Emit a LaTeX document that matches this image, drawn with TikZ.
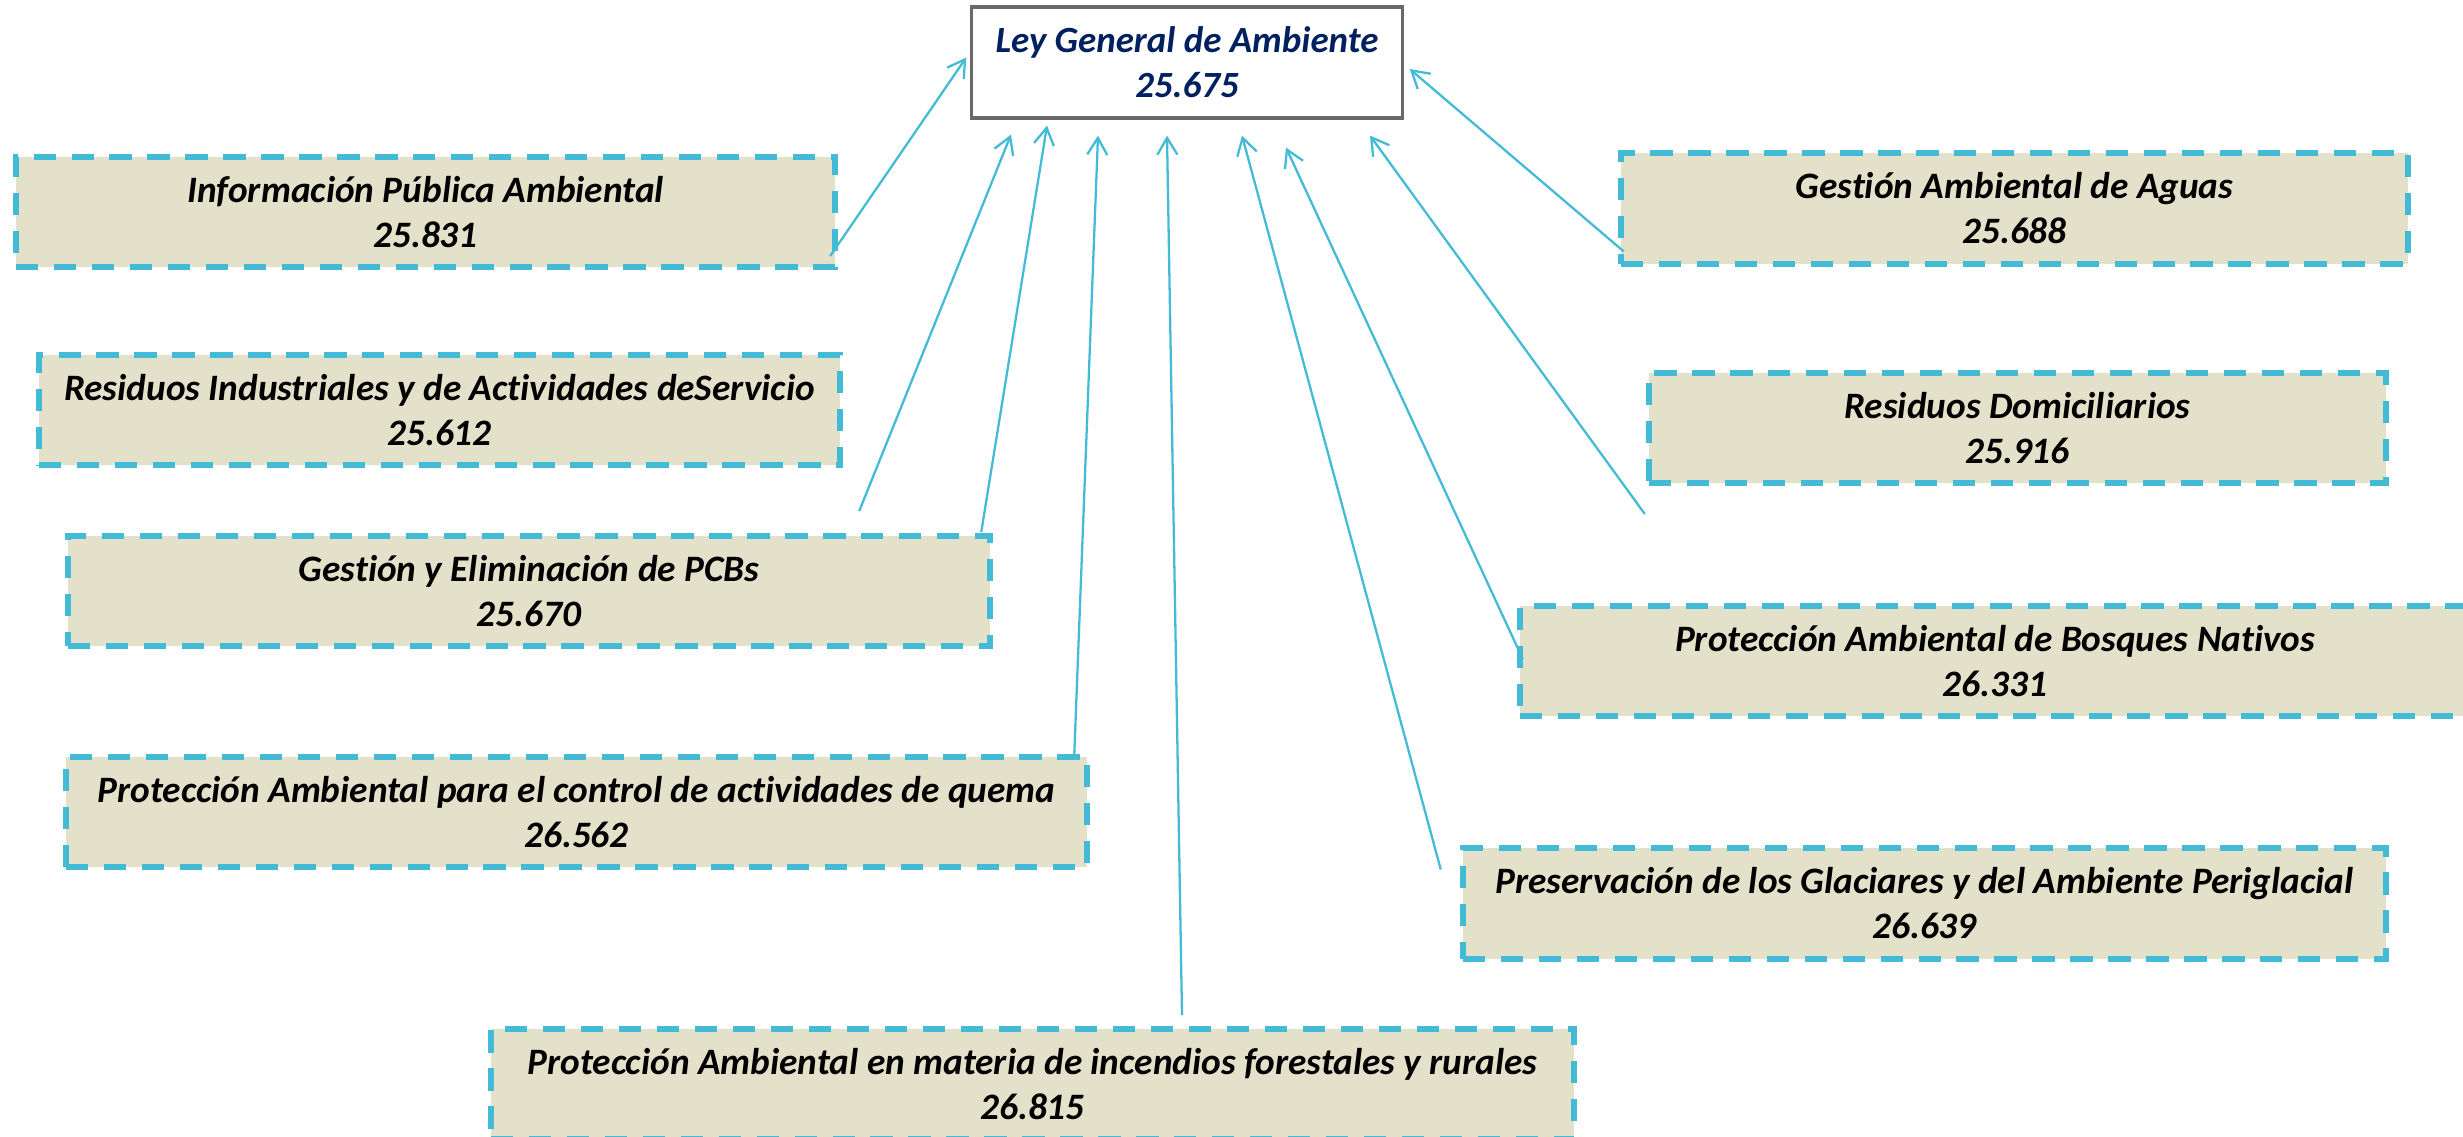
\documentclass[tikz,border=0pt]{standalone}
\usepackage{fontspec}
\setmainfont{Carlito}[Ligatures=NoCommon]
\usetikzlibrary{arrows.meta,calc}

\definecolor{boxfill}{RGB}{227,225,201}
\definecolor{dashblue}{RGB}{67,187,214}
\definecolor{lawblue}{RGB}{0,32,96}
\definecolor{lawgray}{RGB}{105,105,105}

\begin{document}
\begin{tikzpicture}[x=0.01cm,y=-0.01cm,
                    >={Straight Barb[length=4.8pt,width=5.7pt]},
                    every edge/.style={draw,->,dashblue,line width=0.65pt}]
  \tikzstyle{law}=[draw=lawgray,line width=0.9pt,fill=white,text=lawblue,
                   align=center,inner sep=0pt,minimum height=1.11cm,
                   font=\bfseries\itshape\fontsize{10.5}{12.8}\selectfont]
  \tikzstyle{norma}=[draw=dashblue,fill=boxfill,line width=1.7pt,
                     dash pattern=on 6.3pt off 4.5pt,align=center,inner sep=0pt,
                     minimum height=1.1cm,
                     font=\bfseries\itshape\fontsize{10.6}{12.8}\selectfont]

  \clip (0,0) rectangle (2463,1137);

  \node[law,minimum width=4.3cm]     (law)  at (1187,62.5)  {Ley General de Ambiente\\25.675};
  \node[norma,minimum width=8.19cm]  (inf)  at (425.5,212)  {Información Pública Ambiental\\25.831};
  \node[norma,minimum width=8.01cm]  (res)  at (439.5,410)  {Residuos Industriales y de Actividades deServicio\\25.612};
  \node[norma,minimum width=9.22cm]  (pcb)  at (529,591)    {Gestión y Eliminación de PCBs\\25.670};
  \node[norma,minimum width=10.21cm] (que)  at (576.5,812)  {Protección Ambiental para el control de actividades de quema\\26.562};
  \node[norma,minimum width=10.83cm] (inc)  at (1032.5,1084) {Protección Ambiental en materia de incendios forestales y rurales\\26.815};
  \node[norma,minimum width=7.87cm]  (agu)  at (2014.5,208.5) {Gestión Ambiental de Aguas\\25.688};
  \node[norma,minimum width=7.37cm]  (dom)  at (2017.5,428)  {Residuos Domiciliarios\\25.916};
  \node[norma,minimum width=9.5cm]   (bos)  at (1995,661)    {Protección Ambiental de Bosques Nativos\\26.331};
  \node[norma,minimum width=9.23cm]  (glac) at (1924.5,903.5) {Preservación de los Glaciares y del Ambiente Periglacial\\26.639};

  \path ($(inf.south east)+(-8,-14)$) edge ($(law.west)+(-4,-5)$)
        ($(res.south east)+(16,43)$)  edge ($(law.south)+(-176,15)$)
        ($(pcb.north east)+(-12,-1)$) edge ($(law.south)+(-140,6)$)
        ($(que.north east)+(-16,0)$)  edge ($(law.south)+(-89,16)$)
        ($(inc.north)+(149.5,-11)$)   edge ($(law.south)+(-20,16)$)
        ($(glac.north west)+(-19,24)$) edge ($(law.south)+(55,16)$)
        ($(bos.west)+(6,-2)$)         edge ($(law.south)+(99,28)$)
        ($(dom.south west)+(-1,28)$)  edge ($(law.south)+(183,16)$)
        ($(agu.south west)+(6,-15)$)  edge ($(law.east)+(6,6.5)$);
\end{tikzpicture}
\end{document}
